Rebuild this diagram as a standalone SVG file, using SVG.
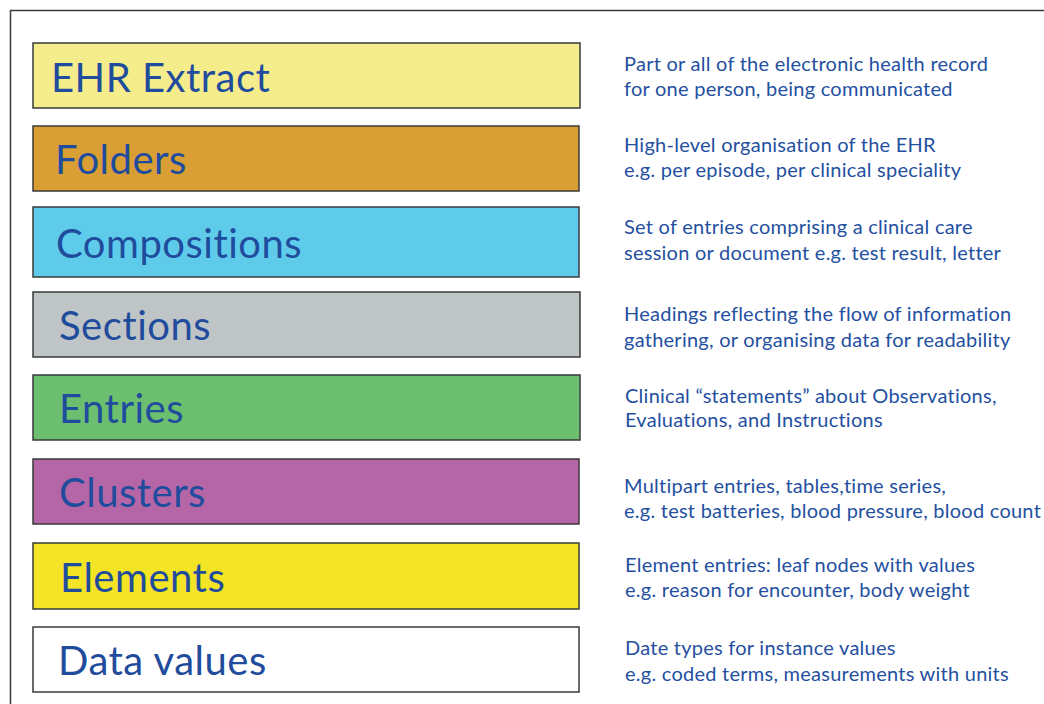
<svg xmlns="http://www.w3.org/2000/svg" width="1044" height="704" viewBox="0 0 1044 704">
  <style>
    .box { stroke: #3a3a3a; stroke-width: 1.5; }
    .label { font-family: Lato, "Open Sans", sans-serif; font-size: 40px; letter-spacing: 0.5px; fill: #1f4c9c; }
    .desc { font-family: Lato, "Open Sans", sans-serif; font-size: 20px; letter-spacing: 0.25px; fill: #24509f; }
  </style>
  <rect width="1044" height="704" fill="#ffffff"/>
  <!-- outer frame, open at right and bottom -->
  <path d="M10.5,704 V10.5 H1044" fill="none" stroke="#3a3a3a" stroke-width="1.5"/>

  <g id="ehr-extract">
    <rect class="box" x="33" y="43" width="547" height="65" fill="#f5ec8c"/>
    <text class="label" x="51" y="92">EHR Extract</text>
    <text class="desc" x="624" y="71">Part or all of the electronic health record</text>
    <text class="desc" x="624" y="96">for one person, being communicated</text>
  </g>
  <g id="folders">
    <rect class="box" x="33" y="126" width="546" height="65" fill="#d99f34"/>
    <text class="label" x="55" y="174">Folders</text>
    <text class="desc" x="624" y="152">High-level organisation of the EHR</text>
    <text class="desc" x="624" y="177">e.g. per episode, per clinical speciality</text>
  </g>
  <g id="compositions">
    <rect class="box" x="33" y="207" width="546" height="70" fill="#5fcbeb"/>
    <text class="label" x="56" y="258">Compositions</text>
    <text class="desc" x="624" y="234">Set of entries comprising a clinical care</text>
    <text class="desc" x="624" y="260">session or document e.g. test result, letter</text>
  </g>
  <g id="sections">
    <rect class="box" x="33" y="292" width="547" height="65" fill="#bfc4c6"/>
    <text class="label" x="59" y="340">Sections</text>
    <text class="desc" x="624" y="321">Headings reflecting the flow of information</text>
    <text class="desc" x="624" y="347">gathering, or organising data for readability</text>
  </g>
  <g id="entries">
    <rect class="box" x="33" y="375" width="547" height="65" fill="#6bbf6e"/>
    <text class="label" x="59" y="423">Entries</text>
    <text class="desc" x="625" y="403">Clinical “statements” about Observations,</text>
    <text class="desc" x="625" y="427">Evaluations, and Instructions</text>
  </g>
  <g id="clusters">
    <rect class="box" x="33" y="459" width="546" height="65" fill="#b466a6"/>
    <text class="label" x="59" y="507">Clusters</text>
    <text class="desc" x="624" y="493">Multipart entries, tables,time series,</text>
    <text class="desc" x="624" y="518">e.g. test batteries, blood pressure, blood count</text>
  </g>
  <g id="elements">
    <rect class="box" x="33" y="543" width="546" height="66" fill="#f3e425"/>
    <text class="label" x="60" y="592">Elements</text>
    <text class="desc" x="625" y="572">Element entries: leaf nodes with values</text>
    <text class="desc" x="625" y="597">e.g. reason for encounter, body weight</text>
  </g>
  <g id="data-values">
    <rect class="box" x="33" y="627" width="546" height="65" fill="#ffffff"/>
    <text class="label" x="58" y="675">Data values</text>
    <text class="desc" x="625" y="655">Date types for instance values</text>
    <text class="desc" x="625" y="681">e.g. coded terms, measurements with units</text>
  </g>
  <g id="connectors"></g>
</svg>
